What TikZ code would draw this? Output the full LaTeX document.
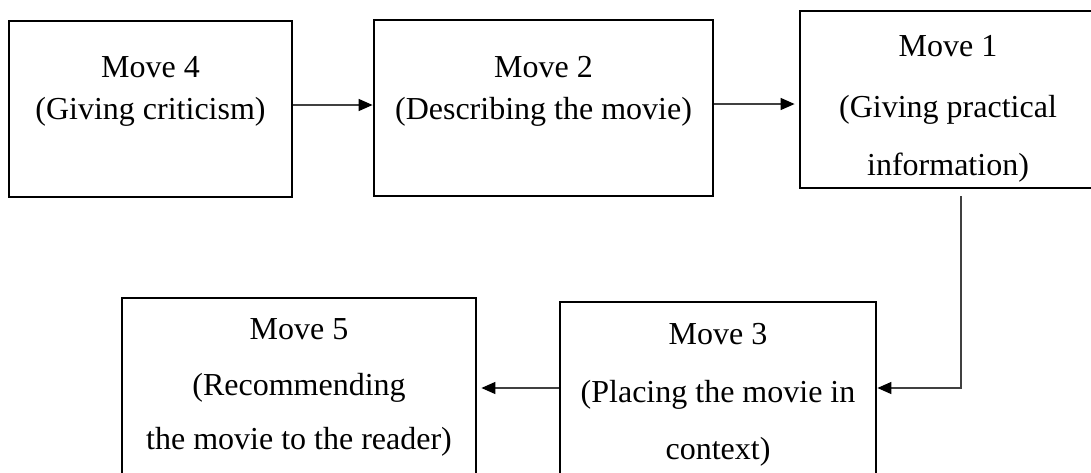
\documentclass[tikz,border=0pt]{standalone}
\usepackage{fontspec}
\setmainfont{Liberation Serif}
\usetikzlibrary{arrows.meta}

\tikzset{
  movebox/.style={draw=black,line width=2.8pt,inner sep=0pt,minimum width=#1},
  movetext/.style={anchor=base,inner sep=0pt,font=\fontsize{32}{38}\selectfont},
  flow/.style={-{Triangle[length=14pt,width=12pt,color=black]},line width=1.4pt,draw=black!75}
}

\begin{document}
\begin{tikzpicture}[x=1pt,y=-1pt]
  \useasboundingbox (0,0) rectangle (1091,472);
  \clip (0,0) rectangle (1091,472);
  % boxes: name / centre x / centre y / width / height
  \foreach \n/\cx/\cy/\w/\h in {%
     m4/150.5/109/283/176,
     m2/543.5/108/339/176,
     m1/948/99.5/296/177,
     m3/718/388/316/172,
     m5/299/389/354/182}{
     \node[movebox=\w pt,minimum height=\h pt] (\n) at (\cx,\cy) {};
  }
  % texts
  \node[movetext] (t4a) at (150.5,77) {Move 4};
  \node[movetext] (t4b) at (150.5,119) {(Giving criticism)};
  \node[movetext] (t2a) at (543.5,77) {Move 2};
  \node[movetext] (t2b) at (543.5,119) {(Describing the movie)};
  \node[movetext] (t1a) at (948,56) {Move 1};
  \node[movetext] (t1b) at (948,117) {(Giving practical};
  \node[movetext] (t1c) at (948,175) {information)};
  \node[movetext] (t3a) at (718,344) {Move 3};
  \node[movetext] (t3b) at (718,402) {(Placing the movie in};
  \node[movetext] (t3c) at (718,459) {context)};
  \node[movetext] (t5a) at (299,339) {Move 5};
  \node[movetext] (t5b) at (299,395) {(Recommending};
  \node[movetext] (t5c) at (299,449) {the movie to the reader)};
  % connectors
  \draw[flow] ([yshift=4pt]m4.east) -- ([yshift=4pt]m4.east -| m2.west);
  \draw[flow,shorten >=4pt] ([yshift=4pt]m2.east) -- ([yshift=4pt]m2.east -| m1.west);
  \draw[flow] ([xshift=13pt,yshift=-7pt]m1.south) |- (m3.east);
  \draw[flow,shorten >=4pt] (m3.west) -- (m3.west -| m5.east);
\end{tikzpicture}
\end{document}
